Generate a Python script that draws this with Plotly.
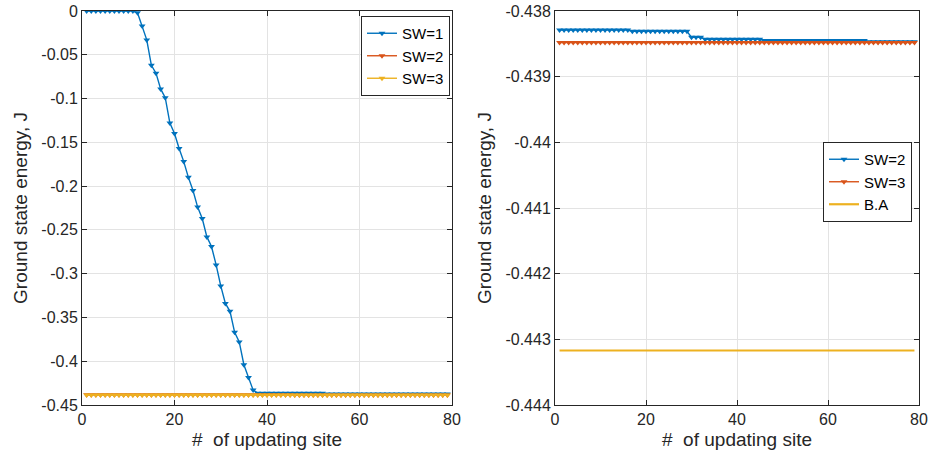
import plotly.graph_objects as go

# ---------------- data ----------------
x_sites = list(range(1, 80))

# left panel, SW=1
sw1_left = ([0.0] * 11 +
            [-0.002, -0.017, -0.033, -0.062, -0.071, -0.089, -0.099, -0.128, -0.140,
             -0.157, -0.172, -0.190, -0.205, -0.224, -0.237, -0.258, -0.269, -0.290,
             -0.314, -0.334, -0.343, -0.367, -0.378, -0.404, -0.4185, -0.433] +
            [-0.4365] * 15 +
            [-0.4375] * 27)

# SW=2 energies (right panel scale)
sw2 = ([-0.43829] * 16 +
       [-0.43831] * 13 +
       [-0.43840] * 3 +
       [-0.43843] * 13 +
       [-0.43845] * 23 +
       [-0.43847] * 11)

# SW=3 energies
sw3 = [-0.43848] * 79

# Bethe ansatz reference
ba = [-0.44317] * 79

x_ticks = [0, 20, 40, 60, 80]
left_yticks = [0, -0.05, -0.1, -0.15, -0.2, -0.25, -0.3, -0.35, -0.4, -0.45]
left_ylabels = ["0", "-0.05", "-0.1", "-0.15", "-0.2", "-0.25", "-0.3", "-0.35", "-0.4", "-0.45"]
right_yticks = [-0.438, -0.439, -0.44, -0.441, -0.442, -0.443, -0.444]
right_ylabels = ["-0.438", "-0.439", "-0.44", "-0.441", "-0.442", "-0.443", "-0.444"]

C1, C2, C3 = "#0072BD", "#D95319", "#EDB120"
FONT = "Liberation Sans, Arial, sans-serif"
AX = "#262626"

fig = go.Figure()

def add(x, y, name, color, xa, ya, legend, marker=True):
    fig.add_trace(go.Scatter(
        x=x, y=y, name=name, xaxis=xa, yaxis=ya, legend=legend,
        mode="lines+markers" if marker else "lines",
        line=dict(color=color, width=1.4 if marker else 2.2),
        marker=dict(symbol="triangle-down", size=6, color=color) if marker else None,
    ))

add(x_sites, sw1_left, "SW=1", C1, "x", "y", "legend")
add(x_sites, sw2, "SW=2", C2, "x", "y", "legend")
add(x_sites, sw3, "SW=3", C3, "x", "y", "legend")

add(x_sites, sw2, "SW=2", C1, "x2", "y2", "legend2")
add(x_sites, sw3, "SW=3", C2, "x2", "y2", "legend2")
add(x_sites, ba, "B.A", C3, "x2", "y2", "legend2", marker=False)

axis_common = dict(
    showline=True, linecolor=AX, linewidth=1, mirror="ticks",
    ticks="inside", ticklen=5, tickcolor=AX,
    showgrid=True, gridcolor="#e3e3e3", gridwidth=1,
    zeroline=False, automargin=False,
    tickfont=dict(family=FONT, size=16, color=AX),
    title_font=dict(family=FONT, size=19, color=AX),
)

xtitle = "#\u00a0 of updating site\u00a0\u00a0\u00a0"
ytitle = "Ground state energy, J"

legend_common = dict(
    xanchor="right", yanchor="top",
    bgcolor="white", bordercolor=AX, borderwidth=1,
    font=dict(family=FONT, size=15, color="black"),
    itemwidth=30, tracegroupgap=0,
)

fig.update_layout(
    width=930, height=462,
    margin=dict(l=0, r=0, t=0, b=0),
    paper_bgcolor="white", plot_bgcolor="white",
    font=dict(family=FONT, color=AX),
    xaxis=dict(domain=[82/930, 452/930], range=[0, 80], tickvals=x_ticks,
               title=dict(text=xtitle, standoff=5), anchor="y", **axis_common),
    yaxis=dict(domain=[1-405/462, 1-11/462], range=[-0.45, 0], tickvals=left_yticks,
               ticktext=left_ylabels, title=dict(text=ytitle, standoff=8), anchor="x", **axis_common),
    xaxis2=dict(domain=[555/930, 919/930], range=[0, 80], tickvals=x_ticks,
                title=dict(text=xtitle, standoff=5), anchor="y2", **axis_common),
    yaxis2=dict(domain=[1-405/462, 1-11/462], range=[-0.444, -0.438], tickvals=right_yticks,
                ticktext=right_ylabels, title=dict(text=ytitle, standoff=8), anchor="x2", **axis_common),
    legend=dict(x=450/930, y=1-16/462, **legend_common),
    legend2=dict(x=912/930, y=1-142/462, **legend_common),
    showlegend=True,
)

fig.write_html("out.html")
